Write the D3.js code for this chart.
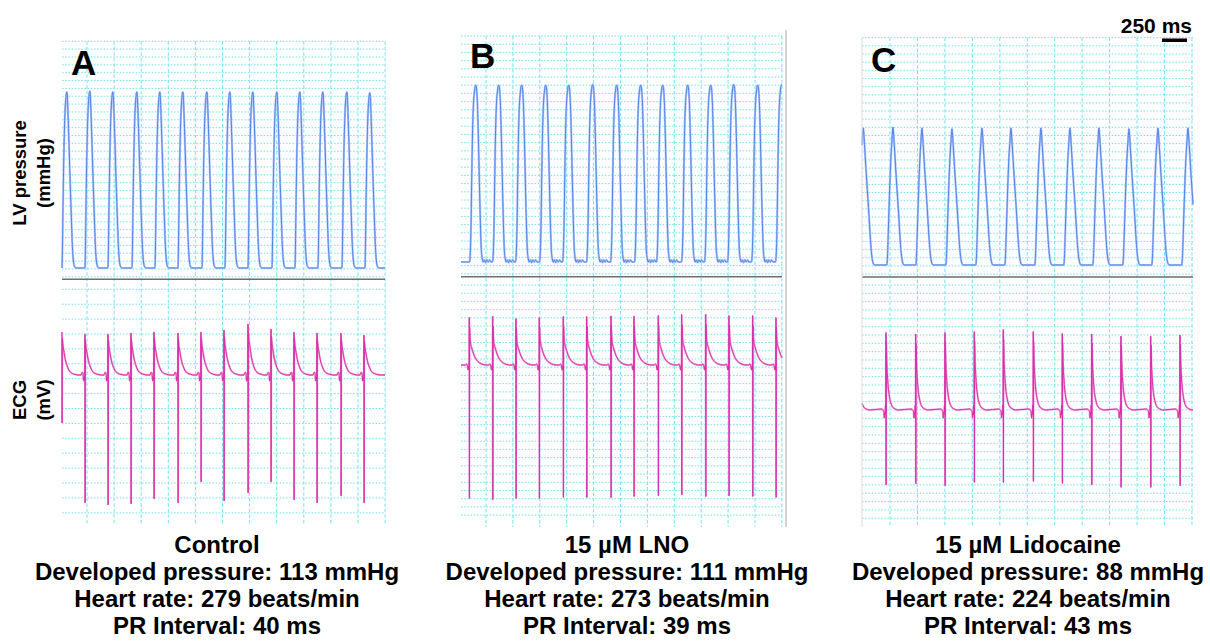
<!DOCTYPE html>
<html><head><meta charset="utf-8">
<script src="https://cdn.jsdelivr.net/npm/d3@7/dist/d3.min.js"></script>
<style>
html,body{margin:0;padding:0;background:#fff}
svg{display:block}
text{font-family:"Liberation Sans",Arial,Helvetica,sans-serif;font-weight:bold;fill:#000}
</style>
</head><body>
<svg id="chart" width="1210" height="643"></svg>
<script>
// ---------------- DATA ----------------
const panelLetters = ["A", "B", "C"];
const conditions = ["Control", "15 µM LNO", "15 µM Lidocaine"];
const developedPressure = [113, 111, 88];      // mmHg
const heartRate = [279, 273, 224];              // beats/min
const prInterval = [40, 39, 43];                // ms
const scaleBarMs = 250;
const recordDurationMs = [3230, 3210, 3310];
const baselinePressure = [5, 5, 5];             // mmHg (diastolic)

// LV pressure: peak times (ms) and peak values (mmHg)
const pressurePeakTimesA = [50, 280, 510, 750, 980, 1210, 1450, 1680, 1910, 2150, 2380, 2610, 2850, 3080];
const pressurePeaksA     = [118, 118.5, 118, 118, 118, 118, 118, 118, 118, 118, 118, 118, 118, 117.5];
const pressurePeakTimesB = [150, 380, 610, 850, 1080, 1320, 1560, 1800, 2020, 2270, 2500, 2730, 2970, 3210];
const pressurePeaksB     = [116, 116, 116, 116, 116, 116.5, 116, 116, 116, 116, 116, 116.5, 116, 116.5];
const pressurePeakTimesC = [13, 310, 600, 900, 1200, 1490, 1790, 2080, 2370, 2670, 2960, 3260];
const pressurePeaksC     = [93, 93.5, 93, 92.5, 93, 93, 93, 93, 93, 92.5, 93, 93];

// one beat of LV pressure: [ms from peak, fraction of developed pressure]
const pressureBeatA = [[-50,0],[-46,0.1],[-40,0.35],[-33,0.6],[-25,0.8],[-17,0.92],[-9,0.98],[-3,1],[0,1],[4,0.97],[10,0.88],[20,0.7],[32,0.48],[45,0.26],[56,0.1],[64,0.04],[74,0.01],[90,0]];
const pressureBeatB = [[-65,0],[-58,0.04],[-50,0.2],[-42,0.5],[-34,0.75],[-25,0.9],[-15,0.97],[-6,1],[0,1],[6,0.98],[14,0.9],[24,0.7],[34,0.45],[44,0.22],[53,0.07],[62,0.02],[72,0],[84,0.012],[96,-0.004],[108,0.012],[122,0],[136,0.012],[150,0]];
const pressureBeatC = [[-62,0],[-56,0.05],[-48,0.22],[-38,0.45],[-28,0.66],[-18,0.82],[-10,0.91],[-4,0.98],[0,1],[4,0.97],[12,0.88],[25,0.72],[40,0.55],[52,0.42],[65,0.26],[78,0.12],[88,0.05],[98,0.015],[110,0]];

// ECG: R-wave times (ms), R amplitude (mV), S amplitude (mV)
const ecgRTimesA = [0, 230, 460, 690, 920, 1160, 1390, 1620, 1860, 2090, 2320, 2550, 2790, 3020];
const ecgRA      = [0.86, 0.82, 0.82, 0.84, 0.86, 0.84, 0.86, 0.9, 1.02, 0.92, 0.86, 0.84, 0.84, 0.8];
const ecgSA      = [-0.96, -2.56, -2.6, -2.58, -2.48, -2.56, -2.14, -2.52, -2.36, -2.14, -2.5, -2.56, -2.42, -2.56];
const ecgRTimesB = [83, 317, 550, 783, 1023, 1257, 1500, 1730, 1973, 2207, 2447, 2680, 2917, 3150];
const ecgRB      = [0.95, 0.97, 0.93, 0.95, 0.97, 0.97, 0.98, 0.98, 0.99, 1.01, 1.01, 0.99, 0.99, 0.95];
const ecgSB      = [-2.67, -2.69, -2.67, -2.67, -2.65, -2.65, -2.65, -2.63, -2.62, -2.6, -2.63, -2.62, -2.63, -2.65];
const ecgRTimesC = [-48, 240, 537, 830, 1123, 1413, 1713, 2003, 2297, 2590, 2887, 3180];
const ecgRC      = [1.5, 1.55, 1.52, 1.55, 1.57, 1.61, 1.57, 1.53, 1.52, 1.48, 1.48, 1.5];
const ecgSC      = [-1.5, -1.5, -1.48, -1.52, -1.45, -1.45, -1.43, -1.47, -1.5, -1.55, -1.55, -1.52];

// ECG beat shape
// before R: [ms from R, mV];  after R: [ms from R, fraction of R amplitude]
const ecgPreA  = [[-40,0],[-30,0.05],[-20,0.04],[-14,-0.12],[-10,-0.04],[-6,-0.1],[-2,-0.03]];
const ecgPostA = [[3,0.85],[10,0.68],[17,0.58],[33,0.36],[50,0.22],[67,0.12],[100,0.04],[130,0.015],[160,0]];
const ecgPreB  = [[-40,0],[-28,0.02],[-18,-0.02],[-11,-0.1],[-8,-0.03],[-5,-0.09],[-2,0.04]];
const ecgPostB = [[3,0.8],[8,0.55],[14,0.44],[24,0.36],[40,0.25],[60,0.15],[75,0.1],[100,0.05],[140,0.01],[170,0]];
const ecgPreC  = [[-45,0.02],[-32,0],[-22,-0.03],[-17,-0.16],[-13,-0.05],[-9,-0.1],[-5,0.1],[-2,-0.05]];
const ecgPostC = [[3,0.88],[8,0.62],[14,0.45],[22,0.3],[33,0.18],[48,0.09],[65,0.04],[90,0.015],[120,0]];

// ---------------- LAYOUT ----------------
const layout = [
  {x0:62,  x1:385,  top:41.3, sep:279.3, bottom:525, p0:275.8, p150:42.2, ecg0:375, vStart:250, vStep:271,   hP:7.85, hE0:289.3, hE:14.9, letterX:71,  letterY:75, textX:217},
  {x0:461, x1:782,  top:36,   sep:276.7, bottom:527, p0:269.95,p150:31.4, ecg0:365, vStart:250, vStep:269,   hP:8.2,  hE0:285,   hE:8.22, letterX:470, letterY:68, textX:627},
  {x0:862, x1:1193, top:37.7, sep:277,   bottom:527, p0:272.8, p150:39.3, ecg0:410, vStart:280, vStep:274.5, hP:8.15, hE0:285,   hE:8.33, letterX:871, letterY:72, textX:1028}
];
const pressureData = [
  {times:pressurePeakTimesA, peaks:pressurePeaksA, beat:pressureBeatA},
  {times:pressurePeakTimesB, peaks:pressurePeaksB, beat:pressureBeatB},
  {times:pressurePeakTimesC, peaks:pressurePeaksC, beat:pressureBeatC}
];
const ecgData = [
  {times:ecgRTimesA, r:ecgRA, s:ecgSA, pre:ecgPreA, post:ecgPostA},
  {times:ecgRTimesB, r:ecgRB, s:ecgSB, pre:ecgPreB, post:ecgPostB},
  {times:ecgRTimesC, r:ecgRC, s:ecgSC, pre:ecgPreC, post:ecgPostC}
];

const gridColor = "#74e4ef";
const svg = d3.select("#chart");

function clipSeries(pts, t0, t1, dflt) {
  pts.sort((a, b) => a.t - b.t);
  function valueAt(t) {
    if (!pts.length || t < pts[0].t || t > pts[pts.length - 1].t) return dflt;
    for (let i = 0; i < pts.length - 1; i++) {
      if (pts[i].t <= t && t <= pts[i + 1].t) {
        const a = pts[i], b = pts[i + 1];
        if (b.t === a.t) return a.v;
        return a.v + (b.v - a.v) * (t - a.t) / (b.t - a.t);
      }
    }
    return dflt;
  }
  const inner = pts.filter(p => p.t > t0 && p.t < t1);
  return [{t:t0, v:valueAt(t0)}, ...inner, {t:t1, v:valueAt(t1)}];
}

layout.forEach((L, i) => {
  const g = svg.append("g");
  const x = d3.scaleLinear().domain([0, recordDurationMs[i]]).range([L.x0, L.x1]);
  const yP = d3.scaleLinear().domain([0, 150]).range([L.p0, L.p150]);
  const yE = d3.scaleLinear().domain([-3, 1.5]).range([L.ecg0 + 150, L.ecg0 - 75]);

  // grid: horizontal dotted
  const hLinesP = d3.range(L.top, L.sep - 1.5, L.hP);
  const hLinesE = d3.range(L.hE0, L.bottom - 8, L.hE);
  g.selectAll(null).data(hLinesP.concat(hLinesE)).join("line")
    .attr("x1", L.x0).attr("x2", L.x1).attr("y1", d => d).attr("y2", d => d)
    .attr("stroke", gridColor).attr("stroke-width", 1).attr("stroke-dasharray", "1.6,1.6");
  // grid: vertical dashed
  const vTimes = d3.range(L.vStart, recordDurationMs[i] + 5, L.vStep);
  g.selectAll(null).data(vTimes).join("line")
    .attr("x1", d => x(d)).attr("x2", d => x(d)).attr("y1", L.top).attr("y2", L.bottom)
    .attr("stroke", gridColor).attr("stroke-width", 1).attr("stroke-dasharray", "3.5,2");

  // separator
  g.append("line").attr("x1", L.x0).attr("x2", L.x1).attr("y1", L.sep).attr("y2", L.sep)
    .attr("stroke", "#6e6e6e").attr("stroke-width", 1.5);

  // pressure trace
  const P = pressureData[i];
  const base = baselinePressure[i];
  let pp = [];
  P.times.forEach((t, k) => {
    P.beat.forEach(([dt, f]) => pp.push({t: t + dt, v: base + f * (P.peaks[k] - base)}));
  });
  pp = clipSeries(pp, 0, recordDurationMs[i], base);
  const lineP = d3.line().x(d => x(d.t)).y(d => yP(d.v)).curve(d3.curveMonotoneX);
  g.append("path").attr("d", lineP(pp)).attr("fill", "none")
    .attr("stroke", "#b4c8f6").attr("stroke-width", 2.2).attr("stroke-linejoin", "round");
  g.append("path").attr("d", lineP(pp)).attr("fill", "none")
    .attr("stroke", "#5283ea").attr("stroke-width", 1).attr("stroke-linejoin", "round");

  // ECG trace
  const E = ecgData[i];
  let ep = [];
  E.times.forEach((t, k) => {
    E.pre.forEach(([dt, v]) => ep.push({t: t + dt, v: v}));
    ep.push({t: t, v: E.r[k]});
    ep.push({t: t + 1.2, v: E.s[k]});
    E.post.forEach(([dt, f]) => ep.push({t: t + dt, v: f * E.r[k]}));
  });
  ep = clipSeries(ep, 0, recordDurationMs[i], 0);
  const lineE = d3.line().x(d => x(d.t)).y(d => yE(d.v)).curve(d3.curveMonotoneX);
  g.append("path").attr("d", lineE(ep)).attr("fill", "none")
    .attr("stroke", "#f2a6dc").attr("stroke-width", 2).attr("stroke-linejoin", "round");
  g.append("path").attr("d", lineE(ep)).attr("fill", "none")
    .attr("stroke", "#d92fa8").attr("stroke-width", 1).attr("stroke-linejoin", "round");

  // panel letter
  g.append("text").attr("x", L.letterX).attr("y", L.letterY).attr("font-size", 35).text(panelLetters[i]);

  // caption
  const lines = [conditions[i],
    `Developed pressure: ${developedPressure[i]} mmHg`,
    `Heart rate: ${heartRate[i]} beats/min`,
    `PR Interval: ${prInterval[i]} ms`];
  g.selectAll(null).data(lines).join("text")
    .attr("x", L.textX).attr("y", (d, k) => 553 + k * 27)
    .attr("text-anchor", "middle").attr("font-size", 24).text(d => d);

  // scale bar (in panel C coordinates)
  if (i === 2) {
    const x2 = 1187, w = x(scaleBarMs) - x(0);
    svg.append("rect").attr("x", x2 - w).attr("y", 38.5).attr("width", w).attr("height", 3.5).attr("fill", "#000");
    svg.append("text").attr("x", 1192).attr("y", 33).attr("text-anchor", "end").attr("font-size", 21).text(scaleBarMs + " ms");
  }
});

// frame edges
svg.append("line").attr("x1", 786).attr("x2", 786).attr("y1", 30).attr("y2", 527).attr("stroke", "#c4c4c4").attr("stroke-width", 1.5);
svg.append("line").attr("x1", 862).attr("x2", 862).attr("y1", 38).attr("y2", 527).attr("stroke", "#dcdcdc").attr("stroke-width", 1);

// y-axis labels
function vLabel(lines, cy) {
  lines.forEach((t, k) => {
    const bx = 26 + k * 24;
    svg.append("text").attr("transform", `translate(${bx},${cy}) rotate(-90)`)
      .attr("text-anchor", "middle").attr("font-size", 18.5).text(t);
  });
}
vLabel(["LV pressure", "(mmHg)"], 173);
vLabel(["ECG", "(mV)"], 400);
</script>
</body></html>
